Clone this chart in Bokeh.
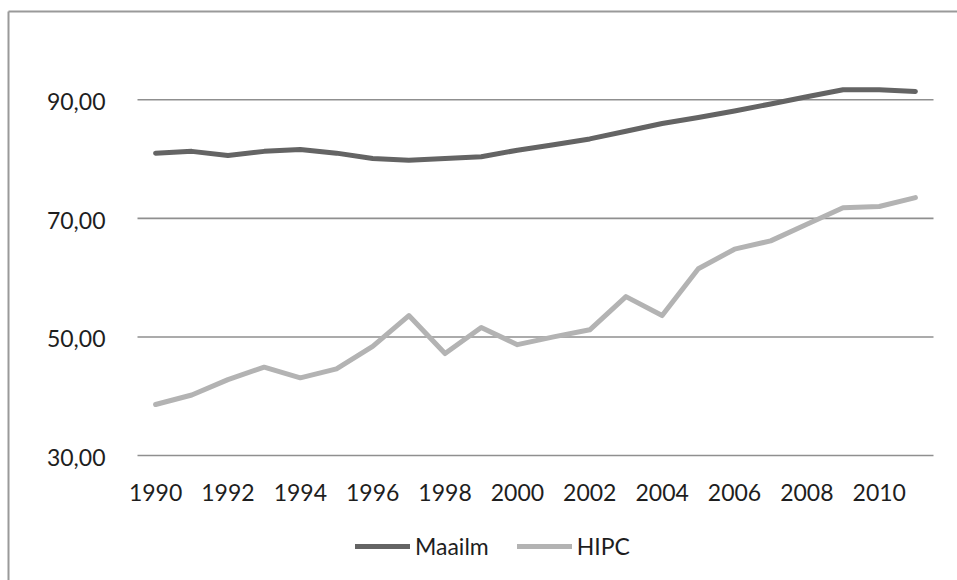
from bokeh.plotting import figure
from bokeh.models import Legend, LegendItem, ColumnDataSource, Range1d
from bokeh.core.properties import value
from bokeh.embed import file_html
from bokeh.resources import INLINE

years = list(range(1990, 2012))
maailm = [81.0, 81.3, 80.6, 81.3, 81.6, 81.0, 80.1, 79.8, 80.1, 80.4,
          81.5, 82.4, 83.4, 84.7, 86.0, 87.0, 88.1, 89.3, 90.5, 91.7,
          91.7, 91.4]
hipc = [38.6, 40.2, 42.8, 44.9, 43.1, 44.6, 48.4, 53.6, 47.2, 51.6,
        48.7, 50.0, 51.2, 56.8, 53.6, 61.5, 64.8, 66.2, 69.0, 71.8,
        72.0, 73.5]
x_ticks = list(range(1990, 2011, 2))
x_tick_labels = [str(y) for y in x_ticks]
y_ticks = [30, 50, 70, 90]
y_tick_labels = ["30,00", "50,00", "70,00", "90,00"]
series_names = ["Maailm", "HIPC"]

# ---- layout (screen pixels) ----
W, H = 957, 580
PL, PR, PT, PB = 137, 933, 40, 455
X0, X1 = years[0] - 0.5, years[-1] + 0.5
Y0, Y1 = 30, 100
sx = (PR - PL) / (X1 - X0)
sy = (PB - PT) / (Y1 - Y0)
xs, xe = X0 - PL / sx, X1 + (W - PR) / sx
ys, ye = Y0 - (H - PB) / sy, Y1 + PT / sy


def px_x(px):
    return xs + px / sx


def px_y(py):
    return ye - py / sy


FONT = value("Lato")
TXT = "#1e1e1e"

p = figure(width=W, height=H, output_backend="svg", toolbar_location=None,
           x_range=Range1d(xs, xe), y_range=Range1d(ys, ye),
           x_axis_location=None, y_axis_location=None,
           min_border=0, min_border_left=0, min_border_right=0,
           min_border_top=0, min_border_bottom=0)
p.grid.visible = False
p.outline_line_color = None
p.background_fill_color = "white"
p.border_fill_color = "white"

# chart border (cut by the window on the right and bottom)
p.segment(x0=[px_x(8), px_x(8)], y0=[px_y(11), px_y(11)],
          x1=[px_x(8), px_x(W + 50)], y1=[px_y(H + 50), px_y(11)],
          line_color="#9a9a9a", line_width=2)

# horizontal gridlines at the y ticks
p.segment(x0=[X0] * len(y_ticks), x1=[X1] * len(y_ticks), y0=y_ticks, y1=y_ticks,
          line_color="#8f8f8f", line_width=1.6)

# y tick labels
p.text(x=[X0] * len(y_ticks), y=y_ticks, text=y_tick_labels,
       x_offset=-32, y_offset=2, text_align="right", text_baseline="alphabetic",
       text_font=FONT, text_font_size="23px", text_color=TXT)

# x tick labels
p.text(x=x_ticks, y=[Y0] * len(x_ticks), text=x_tick_labels,
       y_offset=37, text_align="center", text_baseline="alphabetic",
       text_font=FONT, text_font_size="23px", text_color=TXT)

src = ColumnDataSource(dict(year=years, maailm=maailm, hipc=hipc))
r1 = p.line("year", "maailm", source=src, line_color="#646464", line_width=5,
            line_cap="round", line_join="round")
r2 = p.line("year", "hipc", source=src, line_color="#b3b3b3", line_width=5,
            line_cap="round", line_join="round")

legend = Legend(items=[LegendItem(label=series_names[0], renderers=[r1]),
                       LegendItem(label=series_names[1], renderers=[r2])],
                orientation="horizontal", location=(355, 20),
                glyph_width=55, glyph_height=26, label_height=26,
                label_standoff=5, spacing=28,
                padding=0, margin=0, border_line_color=None,
                background_fill_alpha=0,
                label_text_font="Lato", label_text_font_size="23px",
                label_text_color=TXT)
p.add_layout(legend)

open("out.html", "w").write(file_html(p, INLINE))
